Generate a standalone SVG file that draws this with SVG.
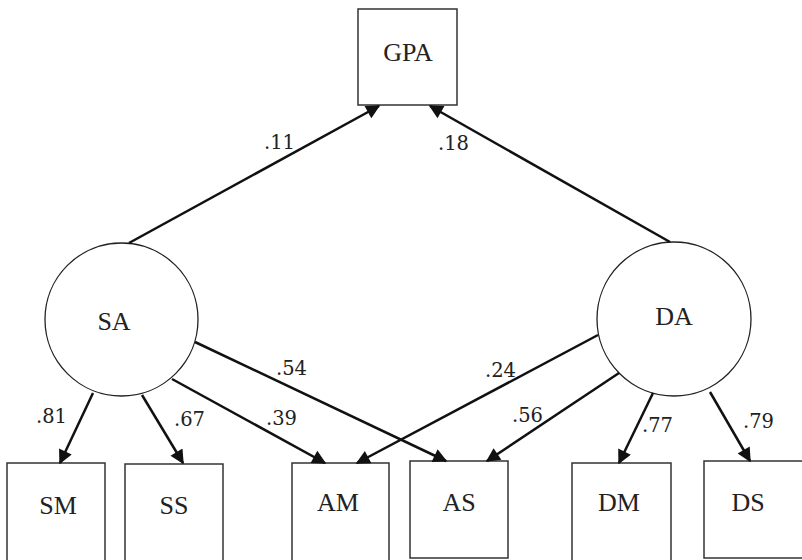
<svg xmlns="http://www.w3.org/2000/svg" width="802" height="560" viewBox="0 0 802 560">
<style>
.box{fill:#fff;stroke:#333;stroke-width:1.5}
.lat{fill:#fff;stroke:#222;stroke-width:1.3}
.nt{font-family:"Liberation Serif","Times New Roman",serif;font-size:26px;fill:#222;text-anchor:middle}
.lb{font-family:"DejaVu Serif","Liberation Serif",serif;font-size:19.5px;fill:#222}
.ar{stroke:#111;stroke-width:2.5;fill:none;marker-end:url(#ah)}
</style>
<defs>
<marker id="ah" viewBox="0 0 10 10" refX="9" refY="5" markerWidth="18" markerHeight="14" markerUnits="userSpaceOnUse" orient="auto">
<path d="M0,0 L10,5 L0,10 z" fill="#111"/>
</marker>
</defs>
<rect width="802" height="560" fill="#fff"/>
<g id="GPA"><rect class="box" x="358" y="9" width="99" height="96"/><text class="nt" x="408" y="61">GPA</text></g>
<g id="SA"><circle class="lat" cx="121.5" cy="319.5" r="76.5"/><text class="nt" x="114" y="330">SA</text></g>
<g id="DA"><circle class="lat" cx="674" cy="319" r="77"/><text class="nt" x="674" y="325">DA</text></g>
<g id="SM"><rect class="box" x="7" y="463" width="98" height="110"/><text class="nt" x="58" y="514">SM</text></g>
<g id="SS"><rect class="box" x="125" y="464" width="98" height="110"/><text class="nt" x="174" y="514">SS</text></g>
<g id="AM"><rect class="box" x="292" y="463" width="97" height="110"/><text class="nt" x="338" y="511">AM</text></g>
<g id="AS"><rect class="box" x="410" y="461" width="98" height="97"/><text class="nt" x="459" y="511">AS</text></g>
<g id="DM"><rect class="box" x="572" y="463" width="99" height="110"/><text class="nt" x="619" y="511">DM</text></g>
<g id="DS"><rect class="box" x="704" y="461" width="110" height="97"/><text class="nt" x="748" y="511">DS</text></g>
<g id="connectors">
<line class="ar" x1="129" y1="243" x2="379" y2="106"/>
<line class="ar" x1="670" y1="242" x2="430" y2="106"/>
<line class="ar" x1="93" y1="393" x2="60" y2="463"/>
<line class="ar" x1="142" y1="395" x2="183" y2="463"/>
<line class="ar" x1="172" y1="379" x2="325" y2="463"/>
<line class="ar" x1="195" y1="342" x2="446" y2="461"/>
<line class="ar" x1="598" y1="335" x2="357" y2="463"/>
<line class="ar" x1="619" y1="373" x2="487" y2="461"/>
<line class="ar" x1="653" y1="393" x2="619" y2="463"/>
<line class="ar" x1="710" y1="392" x2="750" y2="461"/>
<text class="lb" x="264" y="149">.11</text>
<text class="lb" x="438" y="150">.18</text>
<text class="lb" x="276" y="375">.54</text>
<text class="lb" x="266" y="425">.39</text>
<text class="lb" x="485" y="377">.24</text>
<text class="lb" x="512" y="422">.56</text>
<text class="lb" x="36" y="423">.81</text>
<text class="lb" x="174" y="426">.67</text>
<text class="lb" x="642" y="432">.77</text>
<text class="lb" x="743" y="428">.79</text>
</g>
</svg>
